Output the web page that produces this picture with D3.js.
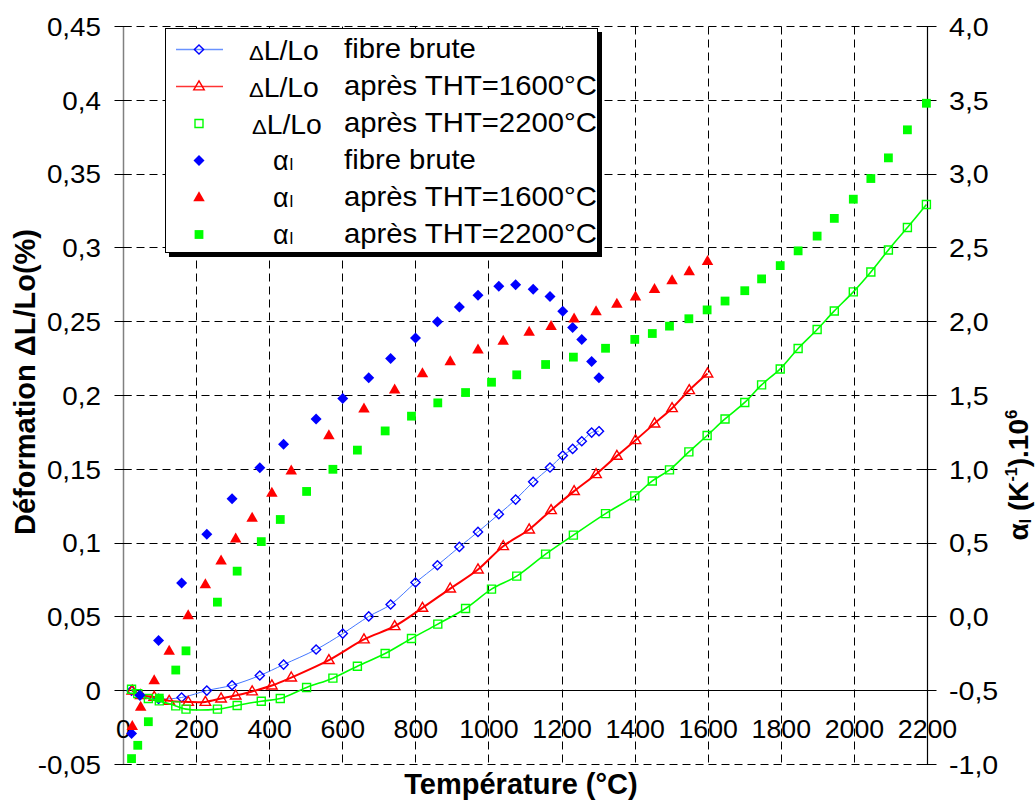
<!DOCTYPE html>
<html><head><meta charset="utf-8">
<script src="https://cdn.jsdelivr.net/npm/d3@7"></script>
<style>
body{margin:0;background:#fff}
svg{display:block}
text{font-family:"Liberation Sans",Arial,Helvetica,sans-serif;fill:#000}
</style>
</head><body>
<svg id="chart" width="1035" height="806"></svg>
<script>
// ---------- DATA ----------
// Fibre brute
const tempBrute  = [22, 45, 96, 159, 228, 297, 373, 438, 527, 600, 671, 731, 799, 859, 919, 970, 1027, 1073, 1121, 1167, 1202, 1229, 1254, 1281, 1301];
const dlBrute    = [0.000, -0.003, -0.0055, -0.0046, 0.0001, 0.0037, 0.0103, 0.0177, 0.0279, 0.0387, 0.0503, 0.0584, 0.0733, 0.085, 0.0974, 0.1076, 0.1196, 0.1295, 0.1415, 0.1512, 0.1593, 0.1638, 0.169, 0.1749, 0.1758];
const alphaBrute = [-0.79, -0.53, -0.16, 0.23, 0.56, 0.80, 1.01, 1.17, 1.34, 1.48, 1.62, 1.75, 1.89, 2.00, 2.10, 2.18, 2.24, 2.25, 2.22, 2.17, 2.07, 1.96, 1.88, 1.73, 1.62];
// Après THT = 1600 °C
const temp1600  = [24, 47, 84, 125, 177, 224, 267, 307, 352, 406, 459, 562, 658, 742, 818, 894, 970, 1039, 1110, 1170, 1233, 1293, 1350, 1401, 1453, 1501, 1548, 1598];
const dl1600    = [0.000, -0.003, -0.0042, -0.0069, -0.0076, -0.0076, -0.0053, -0.0033, -0.0005, 0.0035, 0.0089, 0.0207, 0.0347, 0.0437, 0.0561, 0.0692, 0.0821, 0.0979, 0.1092, 0.1223, 0.1352, 0.1467, 0.1591, 0.1697, 0.181, 0.1914, 0.2036, 0.2149];
const alpha1600 = [-0.74, -0.61, -0.43, -0.23, 0.01, 0.22, 0.38, 0.53, 0.67, 0.84, 0.99, 1.23, 1.41, 1.54, 1.65, 1.73, 1.81, 1.87, 1.93, 1.97, 2.02, 2.07, 2.12, 2.17, 2.22, 2.28, 2.34, 2.41];
// Après THT = 2200 °C
const temp2200  = [22, 39, 68, 98, 143, 171, 257, 311, 377, 429, 501, 573, 640, 716, 788, 860, 936, 1007, 1076, 1155, 1231, 1319, 1399, 1447, 1494, 1547, 1597, 1646, 1700, 1746, 1797, 1846, 1898, 1945, 1997, 2045, 2093, 2145, 2197];
const dl2200    = [0.001, -0.002, -0.0053, -0.0069, -0.0103, -0.0125, -0.0125, -0.0100, -0.0071, -0.0053, 0.0022, 0.0085, 0.0166, 0.0252, 0.0354, 0.0451, 0.0557, 0.0688, 0.0776, 0.0925, 0.1054, 0.1200, 0.1320, 0.1421, 0.1496, 0.1618, 0.1729, 0.1841, 0.1953, 0.2072, 0.2180, 0.2318, 0.2447, 0.2573, 0.2702, 0.2837, 0.2986, 0.3138, 0.3294];
const alpha2200 = [-0.96, -0.87, -0.71, -0.55, -0.36, -0.23, 0.10, 0.31, 0.51, 0.66, 0.85, 1.00, 1.13, 1.26, 1.36, 1.45, 1.52, 1.59, 1.64, 1.71, 1.76, 1.82, 1.88, 1.92, 1.97, 2.02, 2.08, 2.14, 2.21, 2.29, 2.38, 2.48, 2.58, 2.70, 2.83, 2.97, 3.11, 3.30, 3.48];

// Axes ticks and labels
const xTicks = [0, 200, 400, 600, 800, 1000, 1200, 1400, 1600, 1800, 2000, 2200];
const xTickLabels = ["0", "200", "400", "600", "800", "1000", "1200", "1400", "1600", "1800", "2000", "2200"];
const leftTicks = [-0.05, 0, 0.05, 0.1, 0.15, 0.2, 0.25, 0.3, 0.35, 0.4, 0.45];
const leftTickLabels = ["-0,05", "0", "0,05", "0,1", "0,15", "0,2", "0,25", "0,3", "0,35", "0,4", "0,45"];
const rightTicks = [-1, -0.5, 0, 0.5, 1, 1.5, 2, 2.5, 3, 3.5, 4];
const rightTickLabels = ["-1,0", "-0,5", "0,0", "0,5", "1,0", "1,5", "2,0", "2,5", "3,0", "3,5", "4,0"];

// Legend
const legendQuantity = ["ΔL/Lo", "ΔL/Lo", "ΔL/Lo", "α", "α", "α"];
const legendCondition = ["fibre brute", "après THT=1600°C", "après THT=2200°C", "fibre brute", "après THT=1600°C", "après THT=2200°C"];

const xTitle = "Température (°C)";
const yTitle = "Déformation ΔL/Lo(%)";

// ---------- CHART ----------
const svg = d3.select("#chart");
const x = d3.scaleLinear().domain([0, 2200]).range([123.5, 927.5]);
const yL = d3.scaleLinear().domain([-0.05, 0.45]).range([764.5, 26.5]);
const yR = d3.scaleLinear().domain([-1, 4]).range([764.5, 26.5]);
const crisp = v => Math.round(v - 0.5) + 0.5;

const BLUE = "#0000ff", BLUE_LINE = "#4477ff", RED = "#ff0000", GREEN = "#00ff00";

// gridlines
const grid = svg.append("g");
leftTicks.filter(v => v !== 0).forEach(v => {
  grid.append("line").attr("x1", x(0)).attr("x2", x(2200))
    .attr("y1", crisp(yL(v))).attr("y2", crisp(yL(v)))
    .attr("stroke", "#000").attr("stroke-width", 1).attr("stroke-dasharray", "8,5");
});
xTicks.filter(t => t > 0 && t < 2200).forEach(t => {
  grid.append("line").attr("x1", crisp(x(t))).attr("x2", crisp(x(t)))
    .attr("y1", yL(0.45)).attr("y2", yL(-0.05))
    .attr("stroke", "#000").attr("stroke-width", 1).attr("stroke-dasharray", "8,5");
});

// left axis (grey line, crossing ticks)
svg.append("line").attr("x1", crisp(x(0))).attr("x2", crisp(x(0)))
  .attr("y1", yL(0.45)).attr("y2", yL(-0.05)).attr("stroke", "#808080").attr("stroke-width", 1.5);
leftTicks.forEach((v, i) => {
  svg.append("line").attr("x1", x(0) - 9).attr("x2", x(0) + 8)
    .attr("y1", crisp(yL(v))).attr("y2", crisp(yL(v))).attr("stroke", "#000").attr("stroke-width", 1);
  svg.append("text").attr("transform", `translate(101,${yL(v)}) scale(1.07,1)`)
    .attr("text-anchor", "end").attr("dy", "0.36em").attr("font-size", 26).text(leftTickLabels[i]);
});

// right axis (black line, crossing ticks)
svg.append("line").attr("x1", crisp(x(2200))).attr("x2", crisp(x(2200)))
  .attr("y1", yR(4)).attr("y2", yR(-1)).attr("stroke", "#000").attr("stroke-width", 1.2);
rightTicks.forEach((v, i) => {
  svg.append("line").attr("x1", x(2200) - 8).attr("x2", x(2200) + 9)
    .attr("y1", crisp(yR(v))).attr("y2", crisp(yR(v))).attr("stroke", "#000").attr("stroke-width", 1);
  svg.append("text").attr("transform", `translate(949,${yR(v)}) scale(1.1,1)`)
    .attr("text-anchor", "start").attr("dy", "0.36em").attr("font-size", 26).text(rightTickLabels[i]);
});

// x axis at y = 0
svg.append("line").attr("x1", x(0)).attr("x2", x(2200))
  .attr("y1", crisp(yL(0))).attr("y2", crisp(yL(0))).attr("stroke", "#000").attr("stroke-width", 1.2);
xTicks.forEach((t, i) => {
  svg.append("text").attr("transform", `translate(${x(t)},729) scale(1.07,1)`)
    .attr("text-anchor", "middle").attr("dy", "0.36em").attr("font-size", 25).text(xTickLabels[i]);
});

// titles
svg.append("text").attr("x", 521).attr("y", 794).attr("text-anchor", "middle")
  .attr("font-size", 29).attr("font-weight", "bold").text(xTitle);
svg.append("text").attr("transform", "translate(35,382) rotate(-90)").attr("text-anchor", "middle")
  .attr("font-size", 29).attr("font-weight", "bold").text(yTitle);
const rt = svg.append("text").attr("transform", "translate(1028,475) rotate(-90)").attr("text-anchor", "middle")
  .attr("font-size", 28).attr("font-weight", "bold");
rt.append("tspan").text("α");
rt.append("tspan").attr("font-size", 16).attr("dy", 3).text("l");
rt.append("tspan").attr("dy", -3).text(" (K");
rt.append("tspan").attr("font-size", 16).attr("dy", -11).text("-1");
rt.append("tspan").attr("dy", 11).text(").10");
rt.append("tspan").attr("font-size", 17).attr("dy", -11).text("6");

// ---------- marker shapes ----------
const diamondPath = r => `M0,${-r}L${r},0L0,${r}L${-r},0Z`;
const trianglePath = (w, h) => `M0,${-h * 0.62}L${w / 2},${h * 0.38}L${-w / 2},${h * 0.38}Z`;
const squarePath = s => `M${-s / 2},${-s / 2}H${s / 2}V${s / 2}H${-s / 2}Z`;

const series = [
  { t: tempBrute, v: dlBrute, axis: yL, line: true, lineColor: BLUE_LINE, lineWidth: 1, shape: diamondPath(4.6), stroke: BLUE, fill: "none" },
  { t: temp1600, v: dl1600, axis: yL, line: true, lineColor: RED, lineWidth: 2, shape: trianglePath(10.5, 9), stroke: RED, fill: "none" },
  { t: temp2200, v: dl2200, axis: yL, line: true, lineColor: GREEN, lineWidth: 1.6, shape: squarePath(8), stroke: GREEN, fill: "none" },
  { t: tempBrute, v: alphaBrute, axis: yR, line: false, shape: diamondPath(5.5), stroke: "none", fill: BLUE },
  { t: temp1600, v: alpha1600, axis: yR, line: false, shape: trianglePath(11.5, 10), stroke: "none", fill: RED },
  { t: temp2200, v: alpha2200, axis: yR, line: false, shape: squarePath(8.8), stroke: "none", fill: GREEN }
];

const plot = svg.append("g");
series.forEach(s => {
  const pts = s.t.map((t, i) => [t, s.v[i]]);
  if (s.line) {
    plot.append("path").datum(pts)
      .attr("d", d3.line().x(d => x(d[0])).y(d => s.axis(d[1])).curve(d3.curveCatmullRom.alpha(0.5)))
      .attr("fill", "none").attr("stroke", s.lineColor).attr("stroke-width", s.lineWidth);
  }
  plot.selectAll(null).data(pts).join("path")
    .attr("transform", d => `translate(${x(d[0])},${s.axis(d[1])})`)
    .attr("d", s.shape).attr("fill", s.fill).attr("stroke", s.stroke).attr("stroke-width", 1.4);
});

// ---------- legend ----------
const lg = svg.append("g");
lg.append("rect").attr("x", 169).attr("y", 32).attr("width", 433).attr("height", 225).attr("fill", "#000");
lg.append("rect").attr("x", 165.5).attr("y", 28.5).attr("width", 432).attr("height", 224)
  .attr("fill", "#fff").attr("stroke", "#000").attr("stroke-width", 1);
series.forEach((s, i) => {
  const cy = 49.5 + 37 * i;
  if (s.line && i < 2) {
    lg.append("line").attr("x1", 176).attr("x2", 223).attr("y1", cy).attr("y2", cy)
      .attr("stroke", s.lineColor).attr("stroke-width", 1.3).attr("stroke-opacity", 0.8);
  }
  lg.append("path").attr("transform", `translate(199,${cy})`).attr("d", s.shape)
    .attr("fill", s.fill).attr("stroke", s.stroke).attr("stroke-width", 1.4);
  if (i < 3) {
    const q = lg.append("text").attr("transform", `translate(${i === 2 ? 252 : 249},${cy + 10}) scale(1.05,1)`).attr("font-size", 27);
    q.append("tspan").attr("font-size", 21).text(legendQuantity[i].slice(0, 1));
    q.append("tspan").text(legendQuantity[i].slice(1));
  } else {
    const q = lg.append("text").attr("transform", `translate(273,${cy + 9.5})`).attr("font-size", 27);
    q.append("tspan").text(legendQuantity[i]);
    q.append("tspan").attr("font-size", 17).attr("dx", 1).text("l");
  }
  lg.append("text").attr("transform", `translate(344,${cy + 8.5}) scale(1.085,1)`).attr("font-size", 27).text(legendCondition[i]);
});
</script>
</body></html>
